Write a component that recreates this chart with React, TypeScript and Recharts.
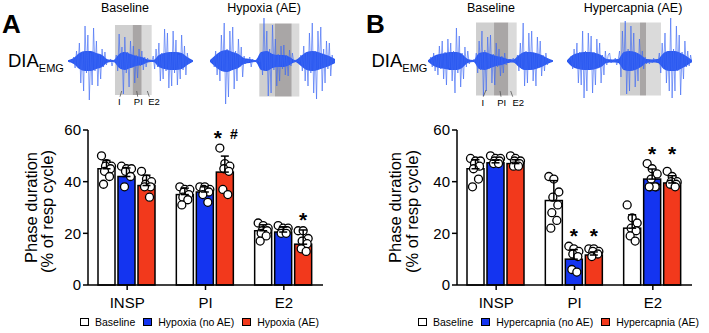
import React from 'react'
import {
  Area,
  Bar,
  BarChart,
  ComposedChart,
  ErrorBar,
  Legend,
  Line,
  ReferenceArea,
  XAxis,
  YAxis,
} from 'recharts'

const FONT = '"Liberation Sans", Arial, Helvetica, sans-serif'
const BLUE = '#1434f0'
const RED = '#f2391c'
const TRACE_BLUE = '#2a58f0'

// ---- bar chart data ----
const CATEGORIES = ['INSP', 'PI', 'E2']
const Y_TICKS = [0, 20, 40, 60]

const HYPOXIA_SERIES = ['Baseline', 'Hypoxia (no AE)', 'Hypoxia (AE)']
const HYPOXIA_BASE_MEAN = [45, 35, 21]
const HYPOXIA_BASE_SD = [3.2, 2.5, 2.3]
const HYPOXIA_BASE_PTS = [
  [50, 47, 46, 46, 45, 44, 42, 39],
  [38, 37, 37, 36, 35, 34, 33, 31],
  [24, 23, 22, 21, 21, 20, 19, 17],
]
const HYPOXIA_NOAE_MEAN = [42, 36, 20.5]
const HYPOXIA_NOAE_SD = [3.3, 2, 2]
const HYPOXIA_NOAE_PTS = [
  [46, 45, 45, 44, 42, 38],
  [38, 38, 37, 37, 36, 35, 32],
  [23, 22, 22, 21, 21, 20, 20],
]
const HYPOXIA_AE_MEAN = [38.5, 43.7, 15.8]
const HYPOXIA_AE_SD = [4, 6.2, 5.5]
const HYPOXIA_AE_PTS = [
  [44, 41, 40, 39, 38, 38, 34],
  [53, 47, 46, 45, 44, 37, 35],
  [21, 21, 18, 17, 16, 14, 13],
]
const HYPOXIA_NOAE_SIG = ['', '', '']
const HYPOXIA_AE_SIG = ['', '*#', '*']

const HYPERCAPNIA_SERIES = ['Baseline', 'Hypercapnia (no AE)', 'Hypercapnia (AE)']
const HYPERCAPNIA_BASE_MEAN = [45, 32.7, 22]
const HYPERCAPNIA_BASE_SD = [3.5, 7.7, 5.2]
const HYPERCAPNIA_BASE_PTS = [
  [49, 48, 48, 47, 46, 45, 41, 38],
  [42, 41, 36, 34, 31, 28, 25, 22],
  [31, 26, 24, 22, 21, 19, 17],
]
const HYPERCAPNIA_NOAE_MEAN = [47.3, 10, 41]
const HYPERCAPNIA_NOAE_SD = [1, 3.7, 3.9]
const HYPERCAPNIA_NOAE_PTS = [
  [50, 49, 49, 48, 48, 47, 47],
  [15, 14, 13, 12, 11, 6, 5],
  [47, 45, 43, 41, 38, 38, 38, 38],
]
const HYPERCAPNIA_AE_MEAN = [47, 11.6, 39.5]
const HYPERCAPNIA_AE_SD = [1.5, 1.2, 2.8]
const HYPERCAPNIA_AE_PTS = [
  [50, 49, 48, 48, 47, 46, 46],
  [14, 14, 13, 13, 12, 11],
  [44, 42, 40, 40, 39, 39, 38],
]
const HYPERCAPNIA_NOAE_SIG = ['', '*', '*']
const HYPERCAPNIA_AE_SIG = ['', '*', '*']

// ---- EMG traces ----
// raw spikes, one sample every SAMPLE_MS
const SAMPLE_MS = 25
const TRACE_A_BASELINE = [
  0.5, -0.8, 1, -1,
  4, -7, 10, -6, 18, -22, 9, -30, 35, -12, 26, -39, 8, -24, 33, -10, 20, -25, 7, -18, 12, -6, 9, -4,
  1.5, -1, 2, -5, 1, -1,
  6, -10, 27, -8, 14, -33, 24, -12, 9, -26, 20, -7, 15, -22, 6, -17, 12, -5, 10, -9, 4, -6, 3,
  -1, 0.8, -0.6,
  5, -8, 12, -6, 18, -20, 8, -18, 32, -10, 28, -27, 9, -25, 30, -12, 21, -24, 6, -18, 26, -9, 15, -14, 8, -3,
  1, -0.6, 0.5,
]
const TRACE_A_HYPOXIA = [
  0.5, -0.5,
  3, -6, 10, -14, 7, -20, 26, -10, 38, -43, 12, -36, 30, -9, 34, -28, 10, -20, 22, -6, 14, -16, 5, -3,
  1, -1, 4, -6, 2, -1, 1, -0.8, 1, -1,
  8, -14, 43, -10, 30, -35, 12, -32, 36, -9, 22, -25, 7, -20, 15, -8, 16, -14, 6, -15, 11, -5, 8,
  -2, 1, -1, 0.8, -1,
  6, -10, 15, -20, 9, -25, 28, -12, 38, -32, 10, -38, 30, -8, 34, -30, 12, -22, 20, -8, 18, -15, 6, -3, 1,
]
const TRACE_B_BASELINE = [
  0.5, -0.5,
  4, -6, 8, -10, 5, -14, 15, -8, 20, -18, 9, -24, 22, -7, 18, -20, 10, -32, 33, -12, 25, -26, 8, -18, 14, -6, 10, -3,
  1, -1, 1.5, -1,
  8, -12, 20, -9, 30, -35, 11, -30, 24, -8, 26, -22, 7, -24, 18, -6, 12, -15, 5, -12, 8, -4, 2,
  -1.5, 2, -1, 3, -2, 1,
  6, -10, 18, -8, 38, -25, 10, -22, 28, -9, 30, -20, 8, -25, 24, -7, 20, -15, 6, -10, 8, -4, 2,
  -1, 0.5, -0.5,
]
const TRACE_B_HYPERCAPNIA = [
  0.5, -0.5, 1,
  5, -8, 12, -6, 18, -22, 9, -24, 30, -37, 10, -30, 28, -8, 25, -32, 9, -24, 22, -7, 18, -22, 6, -14, 10, -4, 6,
  8, -2, 1, -1, 3, -4, 1,
  10, -16, 30, -8, 40, -33, 12, -30, 35, -9, 28, -26, 8, -20, 22, -6, 10, -8, 4,
  -3, 2, -3, 1, -2, 3, -1, 2, -1,
  8, -12, 18, -7, 28, -22, 10, -30, 43, -37, 12, -30, 35, -10, 26, -34, 9, -18, 20, -6, 10, -5,
  6, -2,
]
// dense core half-width of each trace, one value every CORE_MS
const CORE_MS = 100
const CORE_A_BASELINE = [0.8, 3, 8, 10, 10, 8, 6, 1.5, 1, 7, 9, 7, 5, 4, 1.5, 1, 6, 8, 9, 9, 8, 4, 0.8]
const CORE_A_HYPOXIA = [1, 6, 10, 11, 9, 7, 3, 2, 1, 9, 10, 7, 6, 6, 4, 1, 5, 9, 10, 9, 7, 5, 2]
const CORE_B_BASELINE = [0.8, 5, 7, 8, 9, 9, 7, 2, 1, 8, 9, 7, 5, 4, 2, 1.5, 6, 9, 9, 8, 6, 3, 0.8]
const CORE_B_HYPERCAPNIA = [0.8, 6, 8, 9, 9, 8, 6, 2, 1.5, 2, 9, 10, 9, 6, 2, 1.5, 2, 8, 10, 10, 8, 5, 1]
// phase boundaries in ms: I start, PI start, E2 start, E2 end
const PHASES_A_BASELINE = [827, 1139, 1297, 1473]
const PHASES_A_HYPOXIA = [868, 1144, 1438, 1572]
const PHASES_B_BASELINE = [845, 1162, 1413, 1561]
const PHASES_B_HYPERCAPNIA = [933, 1285, 1390, 1654]

type Row = Record<string, any>

function buildRows(means: number[][], sds: number[][], pts: number[][][], sigs: string[][]): Row[] {
  const keys = ['base', 'noae', 'ae']
  return CATEGORIES.map((cat, i) => {
    const row: Row = { cat }
    let level = 0
    keys.forEach((k, s) => {
      row[k] = means[s][i]
      row[k + 'Err'] = [0, sds[s][i]]
      row[k + 'Pts'] = pts[s][i]
      row[k + 'Sig'] = sigs[s][i]
      if (sigs[s][i]) level = Math.max(level, means[s][i] + sds[s][i], ...pts[s][i])
    })
    row.sigLevel = level
    return row
  })
}

const hypoxiaRows = buildRows(
  [HYPOXIA_BASE_MEAN, HYPOXIA_NOAE_MEAN, HYPOXIA_AE_MEAN],
  [HYPOXIA_BASE_SD, HYPOXIA_NOAE_SD, HYPOXIA_AE_SD],
  [HYPOXIA_BASE_PTS, HYPOXIA_NOAE_PTS, HYPOXIA_AE_PTS],
  [['', '', ''], HYPOXIA_NOAE_SIG, HYPOXIA_AE_SIG],
)
const hypercapniaRows = buildRows(
  [HYPERCAPNIA_BASE_MEAN, HYPERCAPNIA_NOAE_MEAN, HYPERCAPNIA_AE_MEAN],
  [HYPERCAPNIA_BASE_SD, HYPERCAPNIA_NOAE_SD, HYPERCAPNIA_AE_SD],
  [HYPERCAPNIA_BASE_PTS, HYPERCAPNIA_NOAE_PTS, HYPERCAPNIA_AE_PTS],
  [['', '', ''], HYPERCAPNIA_NOAE_SIG, HYPERCAPNIA_AE_SIG],
)

const jitter = (i: number) => ((i * 5) % 11) - 5

// bar rect + individual animals + significance marks
function DotBar(props: any) {
  const { x, y, width, height, fill, payload, sk } = props
  const mean = payload[sk]
  const ppu = height / mean
  const y0 = y + height
  const cx = x + width / 2
  const pts: number[] = payload[sk + 'Pts']
  const sig: string = payload[sk + 'Sig']
  const levelY = y0 - payload.sigLevel * ppu
  return (
    <g>
      <rect x={x} y={y} width={width} height={height} fill={fill} stroke="#000" strokeWidth={1.5} />
      {pts.map((v, i) => (
        <circle key={i} cx={cx + jitter(i)} cy={y0 - v * ppu} r={4} fill="#fff" stroke="#000" strokeWidth={1.3} />
      ))}
      {sig === '*' && (
        <text x={cx} y={levelY - 3} textAnchor="middle" fontSize={21} fontWeight="bold" fontFamily={FONT}>*</text>
      )}
      {sig === '*#' && (
        <g fontFamily={FONT} fontWeight="bold">
          <text x={cx - 7} y={levelY - 3} textAnchor="middle" fontSize={21}>*</text>
          <text x={cx + 9} y={levelY - 9} textAnchor="middle" fontSize={14}>#</text>
        </g>
      )}
    </g>
  )
}

function LegendContent({ payload, order }: any) {
  const items = [...(payload || [])].sort((a: any, b: any) => order.indexOf(a.value) - order.indexOf(b.value))
  return (
    <div style={{ display: 'flex', alignItems: 'center', height: 14, fontFamily: FONT, fontSize: 10.5, color: '#000', whiteSpace: 'nowrap' }}>
      {items.map((p: any, i: number) => (
        <span key={i} style={{ display: 'flex', alignItems: 'center', marginRight: 8 }}>
          <span style={{ display: 'inline-block', width: 7, height: 6, background: p.color, border: '1px solid #000', marginRight: 6 }} />
          {p.value}
        </span>
      ))}
    </div>
  )
}

function YLabel({ viewBox, off1, off2 }: any) {
  const vb = viewBox || { x: 28, y: 20, width: 60, height: 155 }
  const right = vb.x + vb.width
  const cy = vb.y + vb.height / 2
  return (
    <g fontFamily={FONT} fontSize={16.5} fill="#000">
      <text x={right + off1} y={cy} textAnchor="middle" transform={`rotate(-90 ${right + off1} ${cy})`}>Phase duration</text>
      <text x={right + off2} y={cy + 4} textAnchor="middle" transform={`rotate(-90 ${right + off2} ${cy + 4})`}>(% of resp cycle)</text>
    </g>
  )
}

function PhaseChart({ left, width, marginLeft, rows, names, legendLeft, off1, off2 }: any) {
  const tickStyle = { fill: '#000', fontSize: 15, fontFamily: FONT }
  const axisStyle = { stroke: '#000', strokeWidth: 1.5 }
  const series = [
    { key: 'base', fill: '#ffffff' },
    { key: 'noae', fill: BLUE },
    { key: 'ae', fill: RED },
  ]
  return (
    <div style={{ position: 'absolute', left, top: 110 }}>
      <BarChart
        width={width}
        height={223}
        data={rows}
        margin={{ top: 20, right: 17, bottom: 4, left: marginLeft }}
        barCategoryGap={10}
        barGap={3}
      >
        <XAxis dataKey="cat" axisLine={axisStyle} tickLine={axisStyle} tickSize={5} tickMargin={7} height={30} tick={tickStyle} />
        <YAxis
          domain={[0, 60]}
          ticks={Y_TICKS}
          interval={0}
          width={60}
          axisLine={axisStyle}
          tickLine={axisStyle}
          tickSize={5}
          tickMargin={2}
          tick={tickStyle}
          label={{ content: (p: any) => <YLabel viewBox={p.viewBox} off1={off1} off2={off2} /> }}
        />
        <Legend
          verticalAlign="bottom"
          align="left"
          content={<LegendContent order={names} />}
          wrapperStyle={{ left: legendLeft, height: 14, width: 'auto' }}
        />
        {series.map((s, i) => (
          <Bar
            key={s.key}
            dataKey={s.key}
            name={names[i]}
            fill={s.fill}
            stroke="#000"
            strokeWidth={1.5}
            isAnimationActive={false}
            shape={(p: any) => <DotBar {...p} sk={s.key} />}
          >
            <ErrorBar dataKey={s.key + 'Err'} direction="y" width={4} stroke="#000" strokeWidth={1.5} />
          </Bar>
        ))}
      </BarChart>
    </div>
  )
}

function Trace({ left, values, core, phases, yLo, yHi }: any) {
  const spikes = values.map((v: number, i: number) => ({ t: i * SAMPLE_MS, v }))
  const band = core.map((c: number, i: number) => ({ t: i * CORE_MS, band: [-c, c] }))
  const end = (values.length - 1) * SAMPLE_MS
  return (
    <div style={{ position: 'absolute', left, top: 16 }}>
      <ComposedChart width={125} height={95} margin={{ top: 0, right: 0, bottom: 0, left: 0 }}>
        <XAxis type="number" dataKey="t" domain={[0, end]} hide allowDataOverflow />
        <YAxis type="number" domain={[-50, 45]} hide allowDataOverflow />
        <ReferenceArea x1={phases[0]} x2={phases[1]} y1={yLo} y2={yHi} fill="#a8a8a8" fillOpacity={0.55} stroke="none" ifOverflow="visible" />
        <ReferenceArea x1={phases[1]} x2={phases[2]} y1={yLo} y2={yHi} fill="#635c5c" fillOpacity={0.55} stroke="none" ifOverflow="visible" />
        <ReferenceArea x1={phases[2]} x2={phases[3]} y1={yLo} y2={yHi} fill="#bcbcbc" fillOpacity={0.55} stroke="none" ifOverflow="visible" />
        <Line data={spikes} type="linear" dataKey="v" stroke="#3d68f4" strokeWidth={0.9} strokeOpacity={0.7} dot={false} isAnimationActive={false} />
        <Area data={band} type="monotone" dataKey="band" stroke="none" fill={TRACE_BLUE} fillOpacity={1} dot={false} activeDot={false} isAnimationActive={false} />
      </ComposedChart>
    </div>
  )
}

function Annotations() {
  const t = { fontFamily: FONT, fill: '#000' }
  return (
    <svg width={709} height={333} style={{ position: 'absolute', left: 0, top: 0, pointerEvents: 'none' }}>
      <g {...t}>
        <text x={2} y={33} fontSize={26} fontWeight="bold">A</text>
        <text x={366} y={33} fontSize={26} fontWeight="bold">B</text>
        <text x={125} y={11.5} fontSize={12.5} textAnchor="middle">Baseline</text>
        <text x={264} y={11.5} fontSize={12.5} textAnchor="middle">Hypoxia (AE)</text>
        <text x={491} y={11.5} fontSize={12.5} textAnchor="middle">Baseline</text>
        <text x={633} y={11.5} fontSize={12.5} textAnchor="middle">Hypercapnia (AE)</text>
        <text x={8} y={67} fontSize={18.5}>DIA<tspan fontSize={11} dy={4.5}>EMG</tspan></text>
        <text x={371.5} y={67} fontSize={18.5}>DIA<tspan fontSize={11} dy={4.5}>EMG</tspan></text>
        <g fontSize={9.5} textAnchor="middle">
          <text x={119.3} y={105}>I</text>
          <text x={138.3} y={105}>PI</text>
          <text x={154} y={105}>E2</text>
          <text x={482.7} y={105.5}>I</text>
          <text x={501.7} y={105.5}>PI</text>
          <text x={518.3} y={105.5}>E2</text>
        </g>
      </g>
      <g stroke="#555" strokeWidth={0.8}>
        <line x1={121.7} y1={91} x2={120} y2={96.7} />
        <line x1={136.7} y1={91} x2={137.7} y2={96.7} />
        <line x1={147.3} y1={91} x2={149.3} y2={96.7} />
        <line x1={486} y1={90} x2={483.3} y2={96.7} />
        <line x1={500} y1={91} x2={501} y2={96.7} />
        <line x1={510.7} y1={91} x2={512.7} y2={96.7} />
      </g>
    </svg>
  )
}

export default function App() {
  return (
    <div style={{ position: 'absolute', left: 0, top: 0, width: 709, height: 333, background: '#fff', overflow: 'hidden' }}>
      <Trace left={68} values={TRACE_A_BASELINE} core={CORE_A_BASELINE} phases={PHASES_A_BASELINE} yLo={-34} yHi={36} />
      <Trace left={210} values={TRACE_A_HYPOXIA} core={CORE_A_HYPOXIA} phases={PHASES_A_HYPOXIA} yLo={-35.5} yHi={37.5} />
      <Trace left={428} values={TRACE_B_BASELINE} core={CORE_B_BASELINE} phases={PHASES_B_BASELINE} yLo={-34.5} yHi={38.5} />
      <Trace left={567} values={TRACE_B_HYPERCAPNIA} core={CORE_B_HYPERCAPNIA} phases={PHASES_B_HYPERCAPNIA} yLo={-34.5} yHi={38.5} />
      <PhaseChart left={0} width={340} marginLeft={28} rows={hypoxiaRows} names={HYPOXIA_SERIES} legendLeft={80} off1={-51.5} off2={-34.7} />
      <PhaseChart left={370} width={339} marginLeft={27} rows={hypercapniaRows} names={HYPERCAPNIA_SERIES} legendLeft={48} off1={-55.6} off2={-39} />
      <Annotations />
    </div>
  )
}
